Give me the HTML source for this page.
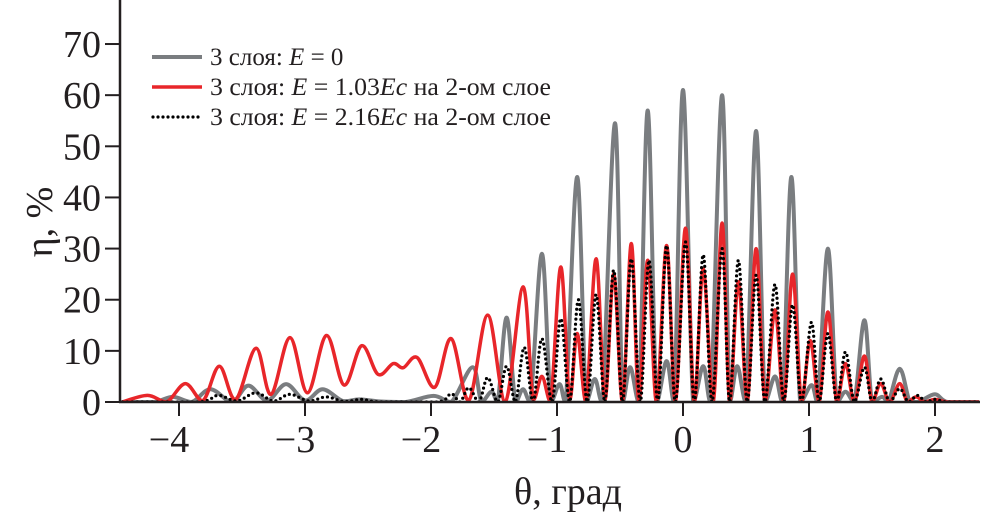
<!DOCTYPE html>
<html><head><meta charset="utf-8">
<style>
html,body{margin:0;padding:0;background:#fff;}
svg{display:block;}
text{font-family:"Liberation Serif",serif;fill:#231f20;}
</style></head>
<body>
<svg id="chart" width="992" height="518" viewBox="0 0 992 518">
  <defs><clipPath id="clip"><rect x="121" y="0" width="871" height="402"/></clipPath></defs>
  <g id="series" clip-path="url(#clip)"></g>
  <g id="axes"></g>
  <g>
    <g>
      <line x1="152" y1="57" x2="202" y2="57" stroke="#7a7d80" stroke-width="4"/>
      <text x="210" y="65" font-size="25">3 слоя: <tspan font-style="italic">E</tspan> = 0</text>
    </g>
    <g>
      <line x1="152" y1="87" x2="202" y2="87" stroke="#e8262a" stroke-width="3.5"/>
      <text x="210" y="95" font-size="25" textLength="341" lengthAdjust="spacingAndGlyphs">3 слоя: <tspan font-style="italic">E</tspan> = 1.03<tspan font-style="italic">Ec</tspan> на 2-ом слое</text>
    </g>
    <g>
      <line x1="153" y1="117" x2="202" y2="117" stroke="#000" stroke-width="3.2" stroke-dasharray="0 5" stroke-linecap="round"/>
      <text x="210" y="125" font-size="25" textLength="341" lengthAdjust="spacingAndGlyphs">3 слоя: <tspan font-style="italic">E</tspan> = 2.16<tspan font-style="italic">Ec</tspan> на 2-ом слое</text>
    </g>
  </g>
  <text x="568" y="504" font-size="38" text-anchor="middle">θ, град</text>
  <text transform="translate(52,222) rotate(-90)" font-size="38" text-anchor="middle">η, %</text>
</svg>
<script>
const xTicks = [-4,-3,-2,-1,0,1,2];
const xTickLabels = ["−4","−3","−2","−1","0","1","2"];
const yTicks = [0,10,20,30,40,50,60,70];
const yTickLabels = ["0","10","20","30","40","50","60","70"];

const grayTheta = [-4.45,-4.2,-4.05,-3.9,-3.75,-3.58,-3.45,-3.3,-3.15,-3.0,-2.86,-2.7,-2.57,-2.4,-2.2,-1.98,-1.84,-1.67,-1.6,-1.52,-1.47,-1.4,-1.33,-1.27,-1.21,-1.12,-1.05,-0.98,-0.93,-0.84,-0.77,-0.7,-0.64,-0.54,-0.48,-0.42,-0.35,-0.28,-0.21,-0.13,-0.07,0,0.08,0.16,0.22,0.31,0.37,0.43,0.5,0.58,0.65,0.73,0.79,0.86,0.93,1.02,1.07,1.15,1.22,1.29,1.36,1.44,1.5,1.58,1.63,1.72,1.8,1.87,2.0,2.1,2.35];
const grayEta = [0,0,1,0,2.5,0,3.2,0.3,3.5,0.3,2.5,0.2,0.5,0.1,0,1.2,0,6.8,0,2,0,16.5,0,2.5,0,29,0,3.5,0,44,0,4.5,0,54.5,0,6.8,0,57,0,8,0,61,0,7,0,60,0,7,0,53,0,5,0,44,0,3.3,0,30,0,2,0,16,0,1,0,6.5,0,0,1.5,0,0];

const redTheta = [-4.45,-4.25,-4.1,-3.95,-3.81,-3.68,-3.55,-3.39,-3.27,-3.12,-2.98,-2.83,-2.69,-2.55,-2.42,-2.3,-2.22,-2.11,-1.97,-1.84,-1.7,-1.55,-1.41,-1.27,-1.19,-1.12,-1.05,-0.97,-0.9,-0.84,-0.77,-0.69,-0.62,-0.55,-0.48,-0.41,-0.35,-0.28,-0.21,-0.13,-0.06,0.02,0.09,0.16,0.24,0.31,0.37,0.44,0.51,0.58,0.65,0.73,0.8,0.87,0.94,1.01,1.08,1.15,1.22,1.29,1.36,1.44,1.5,1.57,1.64,1.72,1.78,1.85,1.92,2.0,2.1,2.35];
const redEta = [0,1.3,0,3.6,0.3,7,0.5,10.5,1.5,12.6,1.8,13,3.3,11,5.4,7.5,6.7,8.7,2.9,12.4,0.3,17,0,22.5,0.5,5,0,26.4,0.5,13.4,0,28,0.5,25,0,31,0,27.7,0,30.6,0,34,0,26,0,35,0,23.5,0,30,0,18,0,25,0,12,0,17.6,0,7.5,0,9,0,3.6,0,3.6,0,1,0,0.5,0,0];

const dotTheta = [-4.45,-3.85,-3.69,-3.54,-3.39,-3.25,-3.12,-2.97,-2.83,-2.69,-2.55,-2.4,-1.95,-1.84,-1.77,-1.7,-1.62,-1.55,-1.47,-1.4,-1.33,-1.26,-1.19,-1.12,-1.04,-0.97,-0.9,-0.83,-0.76,-0.69,-0.62,-0.55,-0.48,-0.41,-0.34,-0.27,-0.2,-0.13,-0.06,0.02,0.09,0.16,0.23,0.31,0.37,0.44,0.51,0.58,0.65,0.73,0.8,0.87,0.94,1.02,1.08,1.15,1.22,1.29,1.36,1.44,1.5,1.57,1.64,1.72,1.79,1.86,1.93,2.0,2.1,2.35];
const dotEta = [0,0,1.3,0.2,1.8,0.2,1.5,0.2,1,0.1,0.5,0,0,1.6,0,2.8,0,4.8,0,7,0,10.7,0,12.4,0,16.3,0,20,0,21,0,25.8,0,28,0,27.7,0,30.6,0,31.3,0,28.8,0,30,0,27.7,0,24.8,0,23,0,19,0,15.6,0,13.4,0,9.8,0,6.8,0,4.5,0,2.6,0,1.3,0,0.5,0,0];

const X0 = 683, XS = 126, Y0 = 402, YS = 5.114;
const xPos = t => X0 + t * XS;
const yPos = v => Y0 - v * YS;
const NS = "http://www.w3.org/2000/svg";

function pathFor(th, et) {
  const p = th.map((t, i) => [xPos(t), yPos(et[i])]);
  let d = "M" + p[0][0].toFixed(1) + "," + p[0][1].toFixed(1);
  for (let i = 0; i < p.length - 1; i++) {
    const p0 = p[Math.max(i - 1, 0)], p1 = p[i], p2 = p[i + 1], p3 = p[Math.min(i + 2, p.length - 1)];
    const k = 0.17;
    const c1 = [p1[0] + (p2[0] - p0[0]) * k, Math.min(Y0, p1[1] + (p2[1] - p0[1]) * k)];
    const c2 = [p2[0] - (p3[0] - p1[0]) * k, Math.min(Y0, p2[1] - (p3[1] - p1[1]) * k)];
    d += "C" + c1[0].toFixed(1) + "," + c1[1].toFixed(1) + " " + c2[0].toFixed(1) + "," + c2[1].toFixed(1) + " " + p2[0].toFixed(1) + "," + p2[1].toFixed(1);
  }
  return d;
}

const series = document.getElementById("series");
function addSeries(th, et, color, w, dash, name) {
  const el = document.createElementNS(NS, "path");
  el.setAttribute("d", pathFor(th, et));
  el.setAttribute("fill", "none");
  el.setAttribute("stroke", color);
  el.setAttribute("stroke-width", w);
  el.setAttribute("stroke-linejoin", "round");
  if (dash) { el.setAttribute("stroke-dasharray", dash); el.setAttribute("stroke-linecap", "round"); }
  
  
  series.appendChild(el);
}
addSeries(grayTheta, grayEta, "#7a7d80", 4, null, "series-e0");
addSeries(redTheta, redEta, "#e8262a", 3.5, null, "series-e103");
addSeries(dotTheta, dotEta, "#000", 3.2, "0 5", "series-e216");

const axes = document.getElementById("axes");
function mk(tag, attrs, text) {
  const el = document.createElementNS(NS, tag);
  for (const k in attrs) el.setAttribute(k, attrs[k]);
  if (text !== undefined) el.textContent = text;
  axes.appendChild(el);
  return el;
}
const yAxis = mk("line", {x1:120, y1:0, x2:120, y2:403, stroke:"#231f20", "stroke-width":2.5});


const xAxis = mk("line", {x1:119, y1:402, x2:980, y2:402, stroke:"#231f20", "stroke-width":2.5});


yTicks.forEach((v, i) => {
  const tk = mk("line", {x1:105, y1:yPos(v), x2:120, y2:yPos(v), stroke:"#231f20", "stroke-width":2});
  
  
  const lb = mk("text", {x:101, y:yPos(v) + 13, "font-size":38, "text-anchor":"end"}, yTickLabels[i]);
  
  
});
xTicks.forEach((v, i) => {
  const tk = mk("line", {x1:xPos(v), y1:402, x2:xPos(v), y2:416, stroke:"#231f20", "stroke-width":2});
  
  
  const lb = mk("text", {x:xPos(v) - (v < 0 ? 10 : 0), y:452, "font-size":38, "text-anchor":"middle"}, xTickLabels[i]);
  
  
});
</script>
</body></html>
